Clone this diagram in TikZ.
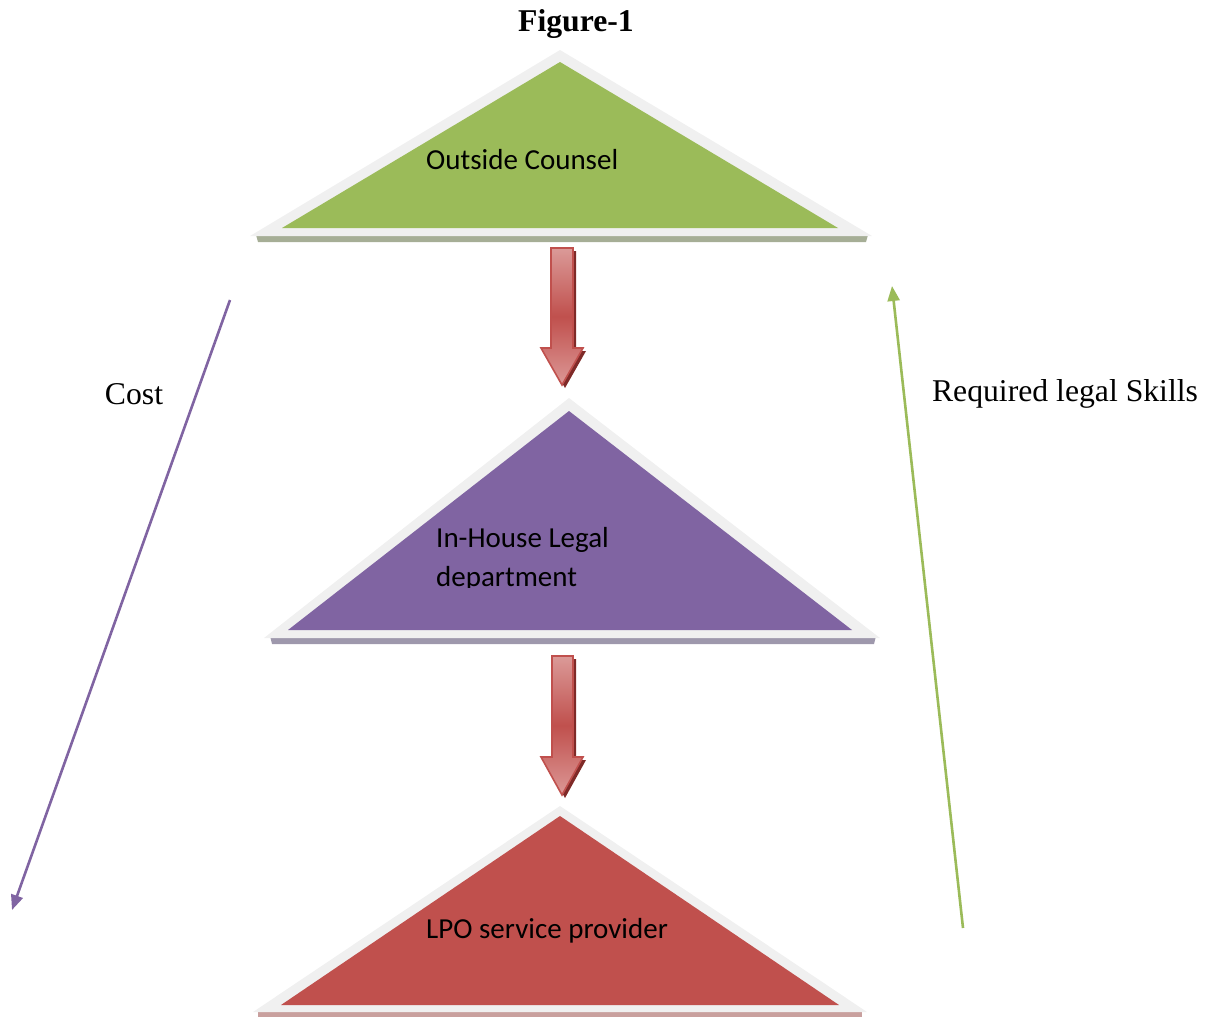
\documentclass[tikz,border=0pt]{standalone}
\usepackage{fontspec}
\setmainfont{Liberation Serif}
\newfontfamily\trifont{Carlito}
\usetikzlibrary{arrows.meta}
\definecolor{gfill}{HTML}{9BBB59}
\definecolor{pfill}{HTML}{8064A2}
\definecolor{rfill}{HTML}{C0504D}
\definecolor{rim}{HTML}{F0F0F0}
\definecolor{gshadow}{HTML}{A6AE96}
\definecolor{pshadow}{HTML}{9E98AC}
\definecolor{rshadow}{HTML}{C9A09E}
\definecolor{arrtop}{HTML}{DB9A98}
\definecolor{arrbot}{HTML}{DC9896}
\definecolor{arrdark}{HTML}{7F2A28}
\definecolor{arredge}{HTML}{C0504D}
\newcommand\blockarr[8]{%
  % #1 shaft left, #2 shaft right, #3 top, #4 head y, #5 head left, #6 head right, #7 tip x, #8 tip y
  \fill[arrdark,shift={(3,3)}] (#1,#3) -- (#2,#3) -- (#2,#4) -- (#6,#4) -- (#7,#8) -- (#5,#4) -- (#1,#4) -- cycle;
  \draw[blockstyle] (#1,#3) -- (#2,#3) -- (#2,#4) -- (#6,#4) -- (#7,#8) -- (#5,#4) -- (#1,#4) -- cycle;
}
\begin{document}
\begin{tikzpicture}[x=1pt,y=-1pt,
  tritext/.style={font=\trifont\fontsize{29}{40}\selectfont, inner sep=0pt, text=black},
  lbl/.style={font=\fontsize{31.7}{38}\selectfont, inner sep=0pt},
  blockstyle/.style={draw=arredge, line width=1.6pt, line join=miter, top color=arrtop, bottom color=arrbot, middle color=rfill},
  thinarrow/.style={line width=2.6pt, -{Triangle[length=15pt,width=12pt]}}]
\useasboundingbox (0,0) rectangle (1212,1017);

% title
\node[lbl, font=\bfseries\fontsize{31.7}{38}\selectfont] (title) at (576,24) {Figure-1};

% top triangle
\fill[gshadow] (256,235) -- (868,235) -- (866,242) -- (258,242) -- cycle;
\fill[rim] (560,50) -- (872,236) -- (250,236) -- cycle;
\fill[gfill] (560,62) -- (838,228) -- (282,228) -- cycle;
\node[tritext, anchor=base west] (oc) at (426,169) {Outside Counsel};

% middle triangle
\fill[pshadow] (270,636) -- (876,636) -- (874,644) -- (272,644) -- cycle;
\fill[rim] (569,398) -- (880,638) -- (264,638) -- cycle;
\fill[pfill] (569,411) -- (852,630) -- (288,630) -- cycle;
\node[tritext, anchor=base west] (ih) at (436,547) {In-House Legal};
\begin{scope}
\clip (400,555) rectangle (700,587.5);
\node[tritext, anchor=base west] (dep) at (436,586) {department};
\end{scope}

% bottom triangle
\fill[rshadow] (258,1010) -- (862,1010) -- (862,1017) -- (258,1017) -- cycle;
\fill[rim] (560,806) -- (867,1012) -- (253,1012) -- cycle;
\fill[rfill] (560,816) -- (839,1005) -- (281,1005) -- cycle;
\node[tritext, anchor=base west] (lpo) at (426,938) {LPO service provider};

% block arrows
\blockarr{551}{573}{248}{348}{541}{583}{562}{385}
\blockarr{552}{573}{656}{757}{541}{583}{562}{795}

% side arrows
\coordinate (costS) at (230,300);
\coordinate (costE) at (12,910);
\draw[thinarrow, pfill] (costS) -- (costE);
\coordinate (skS) at (963,928);
\coordinate (skE) at (892,286);
\draw[thinarrow, gfill] (skS) -- (skE);

\node[lbl] (cost) at (134,394) {Cost};
\node[lbl] (skills) at (1065,394) {Required legal Skills};
\end{tikzpicture}
\end{document}
